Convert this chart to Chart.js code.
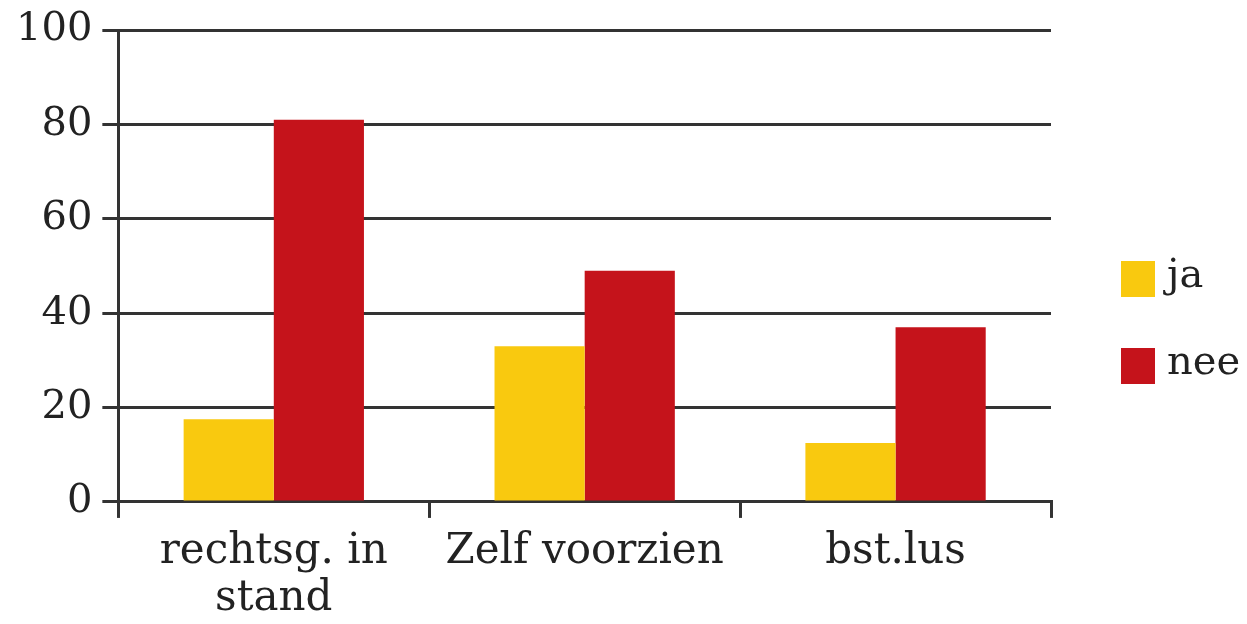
<!DOCTYPE html>
<html>
<head>
<meta charset="utf-8">
<script src="https://cdn.jsdelivr.net/npm/chart.js@4"></script>
<style>
  html, body { margin: 0; padding: 0; background: #fff; }
  #wrap { width: 1247px; height: 624px; }
</style>
</head>
<body>
<div id="wrap"><canvas id="chart" width="1247" height="624"></canvas></div>
<script>
// data
const categories = [['rechtsg. in', 'stand'], 'Zelf voorzien', 'bst.lus'];
const jaValues = [17.5, 33, 12.5];
const neeValues = [81, 49, 37];
const yTicks = [0, 20, 40, 60, 80, 100];

const fontFam = '"DejaVu Serif", serif';

// legend at the right, stacked, square swatches
const sideLegend = {
    id: 'sideLegend',
    afterDraw(chart) {
        const ctx = chart.ctx;
        const x = chart.chartArea.right + 70;
        const tops = [261, 348];
        ctx.save();
        ctx.font = '40px ' + fontFam;
        ctx.textBaseline = 'middle';
        chart.data.datasets.forEach((ds, i) => {
            ctx.fillStyle = ds.backgroundColor;
            ctx.fillRect(x, tops[i], 34, 36);
            ctx.fillStyle = '#222';
            ctx.fillText(ds.label, x + 46, tops[i] + 16);
        });
        ctx.restore();
    }
};

new Chart(document.getElementById('chart'), {
    type: 'bar',
    data: {
        labels: categories,
        datasets: [
            { label: 'ja', data: jaValues, backgroundColor: '#f9c90f' },
            { label: 'nee', data: neeValues, backgroundColor: '#c5131b' }
        ]
    },
    plugins: [sideLegend],
    options: {
        responsive: false,
        animation: false,
        layout: { padding: { top: 10, right: 196, left: 6, bottom: -10 } },
        datasets: {
            bar: { barPercentage: 1, categoryPercentage: 0.58 }
        },
        plugins: {
            tooltip: { enabled: false },
            legend: { display: false }
        },
        scales: {
            x: {
                grid: {
                    drawOnChartArea: false,
                    drawTicks: true,
                    tickLength: 16,
                    color: '#333',
                    lineWidth: 3
                },
                border: { display: true, color: '#333', width: 3 },
                ticks: {
                    color: '#222',
                    padding: 11,
                    maxRotation: 0,
                    font: { family: fontFam, size: 42, lineHeight: 1.12 }
                }
            },
            y: {
                min: 0,
                max: 100,
                afterBuildTicks: axis => { axis.ticks = yTicks.map(v => ({ value: v })); },
                grid: {
                    color: '#333',
                    lineWidth: 3,
                    tickLength: 16
                },
                border: { display: true, color: '#333', width: 3 },
                ticks: {
                    color: '#222',
                    padding: 10,
                    font: { family: fontFam, size: 40, lineHeight: 1 }
                }
            }
        }
    }
});
</script>
</body>
</html>
